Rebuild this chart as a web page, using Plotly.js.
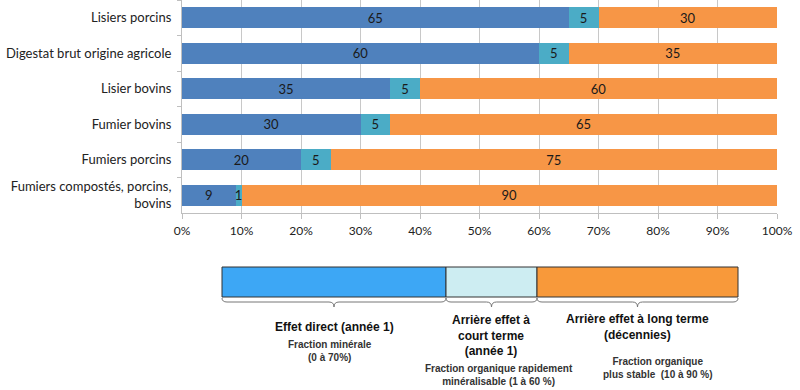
<!DOCTYPE html>
<html><head><meta charset="utf-8">
<script src="https://cdn.plot.ly/plotly-3.0.1.min.js"></script>
<style>html,body{margin:0;padding:0;background:#fff}</style>
</head><body>
<div id="chart" style="width:800px;height:390px"></div>
<script>
const categories = ["Lisiers porcins","Digestat brut origine agricole","Lisier bovins","Fumier bovins","Fumiers porcins","Fumiers compostés, porcins,<br>bovins"];
const direct = [65,60,35,30,20,9];
const courtTerme = [5,5,5,5,5,1];
const longTerme = [30,35,60,65,75,90];
const tickVals = [0,10,20,30,40,50,60,70,80,90,100];
const tickText = tickVals.map(v => v + "%");

const L = 182, PW = 595, PH = 213;
const px = x => (x - L) / PW;
const py = y => (PH - y) / PH;

function mk(vals, color){
  return {type:'bar', orientation:'h', y:categories, x:vals, text:vals.map(String),
    textposition:'inside', insidetextanchor:'middle', constraintext:'none', textangle:0,
    textfont:{family:'Lato, sans-serif', size:13, color:'#1a1a1a'},
    marker:{color:color}, hoverinfo:'skip', cliponaxis:false};
}
const data = [mk(direct,'#4F81BD'), mk(courtTerme,'#4BACC6'), mk(longTerme,'#F79646')];

function box(x0,x1,color){
  return {type:'rect', xref:'paper', yref:'paper', x0:px(x0), x1:px(x1), y0:py(297), y1:py(267),
    fillcolor:color, line:{color:'#333', width:1}};
}
function brace(x0,x1){
  const m=(x0+x1)/2, t=298, b=302, tip=307;
  const P=(x,y)=>px(x)+','+py(y);
  const d='M'+P(x0,t)+' Q'+P(x0,b)+' '+P(x0+5,b)+' L'+P(m-5,b)+' Q'+P(m,b)+' '+P(m,tip)+
          ' Q'+P(m,b)+' '+P(m+5,b)+' L'+P(x1-5,b)+' Q'+P(x1,b)+' '+P(x1,t);
  return {type:'path', xref:'paper', yref:'paper', path:d, line:{color:'#777', width:1}};
}
const shapes = [box(222,446,'#3DA7F5'), box(446,537,'#CDEDF2'), box(537,738,'#F8993A'),
  brace(222,446), brace(446,537), brace(537,738)];

function ann(x,y,text,size,color){
  return {xref:'paper', yref:'paper', x:px(x), y:py(y), text:text, showarrow:false,
    xanchor:'center', yanchor:'middle', align:'center',
    font:{family:'Liberation Sans, Arial, sans-serif', size:size, color:color}};
}
const annotations = [
  ann(334,327,'<b>Effet direct (année 1)</b>',12,'#111'),
  ann(330,351,'<b>Fraction minérale<br>(0 à 70%)</b>',10,'#333'),
  ann(491,335,'<b>Arrière effet à<br>court terme<br>(année 1)</b>',12,'#111'),
  ann(499,375,'<b>Fraction organique rapidement<br>minéralisable (1 à 60 %)</b>',10,'#333'),
  ann(637,327,'<b>Arrière effet à long terme<br>(décennies)</b>',12,'#111'),
  ann(658,368,'<b>Fraction organique<br>plus stable  (10 à 90 %)</b>',10,'#333')
];

const layout = {
  width:800, height:390, barmode:'stack', bargap:0.41, showlegend:false,
  margin:{l:L, r:800-L-PW, t:0, b:390-PH, pad:0},
  paper_bgcolor:'#fff', plot_bgcolor:'#fff',
  font:{family:'Lato, sans-serif', size:13, color:'#222'},
  xaxis:{range:[0,100], tickvals:tickVals, ticktext:tickText, showgrid:true, gridcolor:'#C8C8C8', gridwidth:1,
    showline:true, linecolor:'#BFBFBF', ticks:'outside', ticklen:5, tickcolor:'#BFBFBF', zeroline:false,
    ticklabelstandoff:2,
    tickfont:{family:'Lato, sans-serif', size:12, color:'#222'}, fixedrange:true},
  yaxis:{autorange:'reversed', showline:true, linecolor:'#BFBFBF', ticks:'outside', ticklen:4, tickcolor:'#BFBFBF',
    tickson:'boundaries', showgrid:false, ticklabelstandoff:7,
    tickfont:{family:'Lato, sans-serif', size:13, color:'#222'}, fixedrange:true},
  shapes:shapes, annotations:annotations
};
Plotly.newPlot('chart', data, layout, {displayModeBar:false, staticPlot:true});
</script>
</body></html>
